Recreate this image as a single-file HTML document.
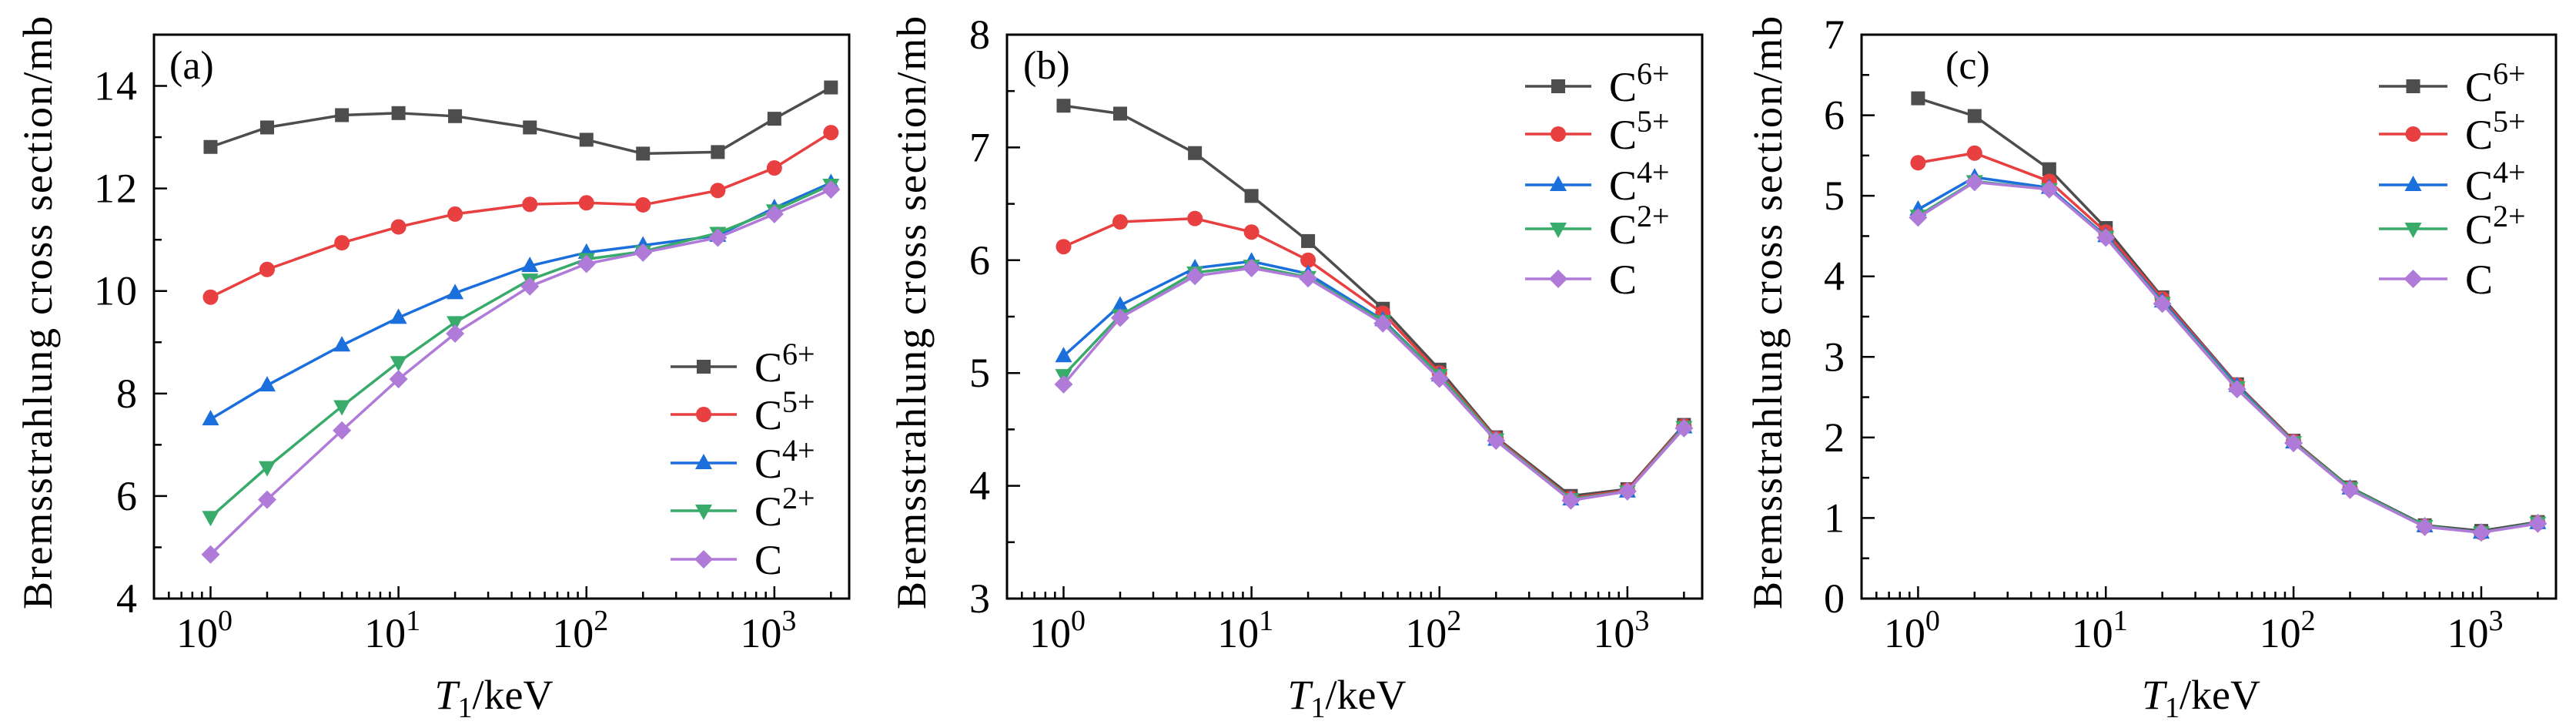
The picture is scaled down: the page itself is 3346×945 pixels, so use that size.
<!DOCTYPE html>
<html><head><meta charset="utf-8"><style>
html,body{margin:0;padding:0;background:#fff;}
svg{display:block;font-family:"Liberation Serif",serif;}
</style></head><body>
<svg id="fig" width="3346" height="945" viewBox="0 0 3346 945" xmlns="http://www.w3.org/2000/svg"></svg>
<script>
const energies = [1,2,5,10,20,50,100,200,500,1000,2000];
const seriesNames = ["6+","5+","4+","2+",""];
const colors = ["#4d4d4d","#e84040","#1a6fdd","#38ab6a","#b07ad8"];
const markers = ["square","circle","triUp","triDown","diamond"];
const panelLabels = ["(a)","(b)","(c)"];
const aC6 = [12.81,13.19,13.43,13.47,13.41,13.19,12.95,12.68,12.71,13.36,13.97];
const aC5 = [9.88,10.42,10.94,11.25,11.50,11.69,11.72,11.68,11.96,12.40,13.09];
const aC4 = [7.50,8.16,8.94,9.48,9.96,10.49,10.75,10.89,11.08,11.62,12.11];
const aC2 = [5.59,6.56,7.75,8.61,9.39,10.22,10.62,10.77,11.13,11.57,12.07];
const aC0 = [4.86,5.93,7.28,8.28,9.17,10.09,10.53,10.75,11.04,11.50,11.98];
const bC6 = [7.37,7.30,6.95,6.57,6.17,5.57,5.03,4.43,3.91,3.97,4.54];
const bC5 = [6.12,6.34,6.37,6.25,6.00,5.53,5.00,4.42,3.89,3.96,4.53];
const bC4 = [5.15,5.60,5.93,5.99,5.88,5.47,4.98,4.41,3.88,3.95,4.52];
const bC2 = [4.98,5.51,5.89,5.95,5.85,5.46,4.98,4.41,3.88,3.95,4.52];
const bC0 = [4.90,5.49,5.86,5.93,5.84,5.44,4.95,4.40,3.87,3.95,4.51];
const cC6 = [6.21,5.99,5.33,4.60,3.74,2.66,1.96,1.38,0.91,0.84,0.95];
const cC5 = [5.41,5.53,5.18,4.55,3.72,2.65,1.95,1.37,0.90,0.82,0.94];
const cC4 = [4.83,5.23,5.10,4.50,3.69,2.64,1.94,1.37,0.90,0.82,0.94];
const cC2 = [4.75,5.18,5.08,4.49,3.67,2.62,1.94,1.37,0.90,0.82,0.94];
const cC0 = [4.73,5.17,5.08,4.48,3.66,2.60,1.93,1.35,0.89,0.82,0.93];
const aYTicks = [4,6,8,10,12,14];
const bYTicks = [3,4,5,6,7,8];
const cYTicks = [0,1,2,3,4,5,6,7];
const xTickExps = [0,1,2,3];

const NS="http://www.w3.org/2000/svg";
const svg=document.getElementById('fig');
function mk(tag,attrs,parent){const e=document.createElementNS(NS,tag);for(const k in attrs)e.setAttribute(k,attrs[k]);(parent||svg).appendChild(e);return e;}

const panels=[
 {left:200,right:1103,ymin:4,ymax:15,minor:1,ticks:aYTicks,series:[aC6,aC5,aC4,aC2,aC0],ylabX:50,tickR:180,lab:[220,102],leg:[871,957,980],legY:[476,538,601,663,726]},
 {left:1308,right:2211,ymin:3,ymax:8,minor:0.5,ticks:bYTicks,series:[bC6,bC5,bC4,bC2,bC0],ylabX:1185,tickR:1288,lab:[1329,102],leg:[1981,2067,2090],legY:[112,174,240,297,362]},
 {left:2418,right:3320,ymin:0,ymax:7,minor:0.5,ticks:cYTicks,series:[cC6,cC5,cC4,cC2,cC0],ylabX:2297,tickR:2398,lab:[2527,102],leg:[3090,3179,3202],legY:[112,174,240,297,362]}
];
const TOP=45,BOT=777,XMIN=0.5,XMAX=2500;

function drawMarker(g,type,x,y,col){
  let e;
  if(type==="square") e=mk('rect',{x:x-9,y:y-9,width:18,height:18,fill:col},g);
  else if(type==="circle") e=mk('circle',{cx:x,cy:y,r:10,fill:col},g);
  else if(type==="triUp") e=mk('polygon',{points:`${x},${y-12} ${x+11},${y+8} ${x-11},${y+8}`,fill:col},g);
  else if(type==="triDown") e=mk('polygon',{points:`${x},${y+12} ${x+11},${y-8} ${x-11},${y-8}`,fill:col},g);
  else e=mk('polygon',{points:`${x},${y-12} ${x+12},${y} ${x},${y+12} ${x-12},${y}`,fill:col},g);
  
  
}

panels.forEach((p,pi)=>{
  const g=mk('g',{});
  
  
  const xs=v=>p.left+(Math.log10(v)-Math.log10(XMIN))/(Math.log10(XMAX)-Math.log10(XMIN))*(p.right-p.left);
  const ys=v=>BOT-(v-p.ymin)/(p.ymax-p.ymin)*(BOT-TOP);
  const tg=mk('g',{stroke:'#000','stroke-width':2.5},g);
  
  
  for(let d=-1;d<=3;d++)for(let m=1;m<=9;m++){const v=m*Math.pow(10,d);if(v<=XMIN||v>=XMAX)continue;const x=xs(v);const len=m===1?16:9;mk('line',{x1:x,x2:x,y1:BOT,y2:BOT-len},tg);}
  for(let v=p.ymin;v<=p.ymax+1e-9;v+=p.minor){const y=ys(v);const major=p.ticks.some(t=>Math.abs(t-v)<1e-9);mk('line',{x1:p.left,x2:p.left+(major?17:10),y1:y,y2:y},tg);}
  p.ticks.forEach(t=>{const e=mk('text',{x:p.tickR,y:ys(t)+18,'font-size':54,'text-anchor':'end','letter-spacing':2},g);e.textContent=t;
    });
  xTickExps.forEach(ex=>{const x=xs(Math.pow(10,ex));const e=mk('text',{x:x-8,y:840,'font-size':54,'text-anchor':'middle'},g);
    e.textContent='10';const s=mk('tspan',{dy:-22,'font-size':38},e);s.textContent=ex;
    });
  p.series.forEach((vals,si)=>{
    const sg=mk('g',{},g);
    
    
    const pts=energies.map((e,i)=>xs(e)+','+ys(vals[i])).join(' ');
    const pl=mk('polyline',{points:pts,fill:'none',stroke:colors[si],'stroke-width':3.5},sg);
    
    
    energies.forEach((e,i)=>drawMarker(sg,markers[si],xs(e),ys(vals[i]),colors[si]));
  });
  const fr=mk('rect',{x:p.left,y:TOP,width:p.right-p.left,height:BOT-TOP,fill:'none',stroke:'#000','stroke-width':3},g);
  
  const pl=mk('text',{x:p.lab[0],y:p.lab[1],'font-size':52},g);pl.textContent=panelLabels[pi];
  
  const yl=mk('text',{x:0,y:0,'font-size':54,'text-anchor':'middle','textLength':770,'lengthAdjust':'spacing',transform:`translate(${p.ylabX+17},${(TOP+BOT)/2-5}) rotate(-90)`},g);
  yl.textContent='Bremsstrahlung cross section/mb';
  
  const xl=mk('text',{x:(p.left+p.right)/2-10,y:920,'font-size':54,'text-anchor':'middle'},g);
  const it=mk('tspan',{'font-style':'italic'},xl);it.textContent='T';
  const sb=mk('tspan',{dy:11,'font-size':38},xl);sb.textContent='1';
  const rest=mk('tspan',{dy:-11},xl);rest.textContent='/keV';
  
  const lg=mk('g',{},g);
  
  seriesNames.forEach((n,si)=>{
    const y=p.legY[si];
    const eg=mk('g',{},lg);
    
    mk('line',{x1:p.leg[0],x2:p.leg[1],y1:y,y2:y,stroke:colors[si],'stroke-width':3.5},eg);
    drawMarker(eg,markers[si],(p.leg[0]+p.leg[1])/2,y,colors[si]);
    const t=mk('text',{x:p.leg[2],y:y+19,'font-size':54},eg);t.textContent='C';
    if(n){const s=mk('tspan',{dy:-22,'font-size':40},t);s.textContent=n;}
  });
});
</script>
</body></html>
